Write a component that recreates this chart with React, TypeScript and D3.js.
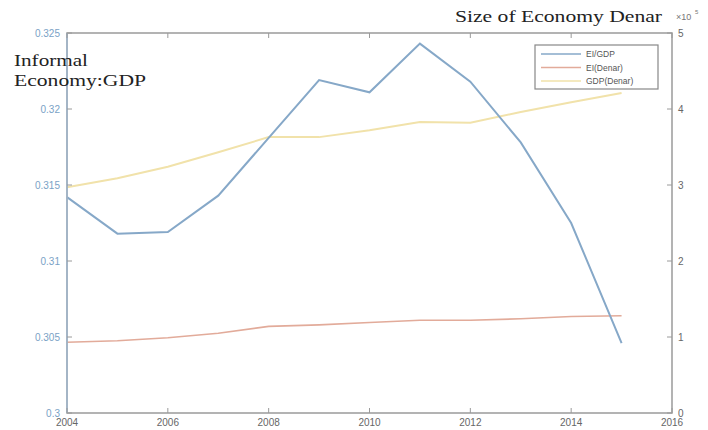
import React from "react";
import * as d3 from "d3";

// Annual observations
const years = [2004, 2005, 2006, 2007, 2008, 2009, 2010, 2011, 2012, 2013, 2014, 2015];
// Informal economy as a share of GDP (left axis)
const eiGdp = [0.3142, 0.3118, 0.3119, 0.3143, 0.3181, 0.3219, 0.3211, 0.3243, 0.3218, 0.3178, 0.3125, 0.3046];
// Informal economy in denars, x10^5 (right axis)
const eiDenar = [0.93, 0.95, 0.99, 1.05, 1.14, 1.16, 1.19, 1.22, 1.22, 1.24, 1.27, 1.28];
// GDP in denars, x10^5 (right axis)
const gdpDenar = [2.97, 3.09, 3.24, 3.43, 3.63, 3.63, 3.72, 3.83, 3.82, 3.96, 4.09, 4.21];

const xTicks = [2004, 2006, 2008, 2010, 2012, 2014, 2016];
const leftTicks = [0.3, 0.305, 0.31, 0.315, 0.32, 0.325];
const leftTickLabels = ["0.3", "0.305", "0.31", "0.315", "0.32", "0.325"];
const rightTicks = [0, 1, 2, 3, 4, 5];
const legendLabels = ["EI/GDP", "EI(Denar)", "GDP(Denar)"];

const W = 708;
const H = 430;
const plot = { left: 67, right: 672, top: 33, bottom: 413 };

const blue = "#86a8c8";
const red = "#e2ab9a";
const yellow = "#f1e2aa";
const axisColor = "#9a9a9a";

export default function App() {
  const x = d3.scaleLinear().domain([2004, 2016]).range([plot.left, plot.right]);
  const yL = d3.scaleLinear().domain([0.3, 0.325]).range([plot.bottom, plot.top]);
  const yR = d3.scaleLinear().domain([0, 5]).range([plot.bottom, plot.top]);

  const lineL = d3
    .line<number>()
    .x((_, i) => x(years[i]))
    .y((d) => yL(d));
  const lineR = d3
    .line<number>()
    .x((_, i) => x(years[i]))
    .y((d) => yR(d));

  const series = [
    { label: legendLabels[0], color: blue, width: 2, path: lineL(eiGdp) },
    { label: legendLabels[1], color: red, width: 1.6, path: lineR(eiDenar) },
    { label: legendLabels[2], color: yellow, width: 2, path: lineR(gdpDenar) },
  ];

  const tickLen = 5;
  const legend = { x: 535, y: 45, w: 123, h: 44 };

  return (
    <svg
      width={W}
      height={H}
      style={{ position: "absolute", left: 0, top: 0, background: "#fff" }}
      fontFamily="'Liberation Sans', Arial, sans-serif"
    >
      {/* data lines */}
      <path d={series[2].path ?? ""} fill="none" stroke={yellow} strokeWidth={2} />
      <path d={series[1].path ?? ""} fill="none" stroke={red} strokeWidth={1.6} />
      <path d={series[0].path ?? ""} fill="none" stroke={blue} strokeWidth={2} />

      {/* box */}
      <rect
        x={plot.left}
        y={plot.top}
        width={plot.right - plot.left}
        height={plot.bottom - plot.top}
        fill="none"
        stroke={axisColor}
        strokeWidth={1.5}
      />
      <line x1={plot.left} x2={plot.left} y1={plot.top} y2={plot.bottom} stroke="#9fb6cc" strokeWidth={1.5} />

      {/* x ticks */}
      {xTicks.map((t) => (
        <g key={t}>
          <line x1={x(t)} x2={x(t)} y1={plot.bottom} y2={plot.bottom - tickLen} stroke={axisColor} />
          <line x1={x(t)} x2={x(t)} y1={plot.top} y2={plot.top + tickLen} stroke={axisColor} />
          <text x={x(t)} y={plot.bottom + 13} textAnchor="middle" fontSize={10} fill="#666">
            {t}
          </text>
        </g>
      ))}

      {/* left ticks */}
      {leftTicks.map((t, i) => (
        <g key={t}>
          <line x1={plot.left} x2={plot.left + tickLen} y1={yL(t)} y2={yL(t)} stroke={axisColor} />
          <text x={plot.left - 7} y={yL(t) + 3.5} textAnchor="end" fontSize={10} fill="#7aa2c6">
            {leftTickLabels[i]}
          </text>
        </g>
      ))}

      {/* right ticks */}
      {rightTicks.map((t) => (
        <g key={t}>
          <line x1={plot.right} x2={plot.right - tickLen} y1={yR(t)} y2={yR(t)} stroke={axisColor} />
          <text x={plot.right + 6} y={yR(t) + 3.5} textAnchor="start" fontSize={10} fill="#666">
            {t}
          </text>
        </g>
      ))}

      {/* exponent */}
      <text x={676} y={20} fontSize={9} fill="#777">
        ×10
      </text>
      <text x={695} y={14} fontSize={6} fill="#777">
        5
      </text>

      {/* axis titles */}
      <g fontFamily="'Liberation Serif', 'Times New Roman', serif" fill="#222" fontSize={16}>
        <text x={14} y={66} textLength={74} lengthAdjust="spacingAndGlyphs">
          Informal
        </text>
        <text x={14} y={86} textLength={132} lengthAdjust="spacingAndGlyphs">
          Economy:GDP
        </text>
        <text x={455} y={22} textLength={207} lengthAdjust="spacingAndGlyphs">
          Size of Economy Denar
        </text>
      </g>

      {/* legend */}
      <rect
        x={legend.x}
        y={legend.y}
        width={legend.w}
        height={legend.h}
        fill="#fff"
        stroke="#888"
        strokeWidth={1.2}
      />
      {series.map((s, i) => (
        <g key={s.label}>
          <line
            x1={legend.x + 6}
            x2={legend.x + 46}
            y1={legend.y + 9 + i * 13.5}
            y2={legend.y + 9 + i * 13.5}
            stroke={s.color}
            strokeWidth={1.5}
          />
          <text x={legend.x + 51} y={legend.y + 12 + i * 13.5} fontSize={8.5} fill="#555">
            {s.label}
          </text>
        </g>
      ))}
    </svg>
  );
}
